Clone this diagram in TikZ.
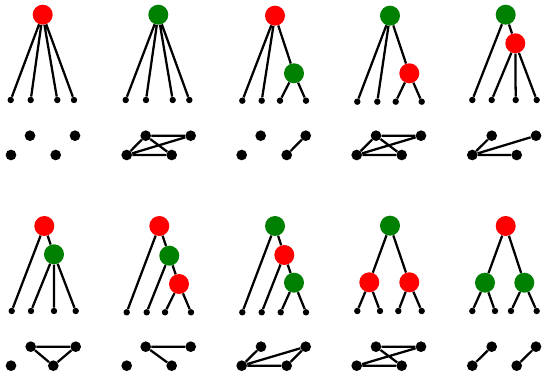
\documentclass[tikz,border=0pt]{standalone}
\usepackage{xcolor}
\definecolor{tgreen}{RGB}{0,128,0}
\definecolor{tred}{RGB}{255,0,0}
\begin{document}
\begin{tikzpicture}[x=0.75pt,y=-0.75pt,
  rn/.style={circle,fill=tred,inner sep=0pt,minimum size=15pt},
  gn/.style={circle,fill=tgreen,inner sep=0pt,minimum size=15pt},
  lf/.style={circle,fill=black,inner sep=0pt,minimum size=4.8pt},
  gd/.style={circle,fill=black,inner sep=0pt,minimum size=8pt},
  ed/.style={line width=1.7pt}]
\useasboundingbox (0,0) rectangle (542,373);
% ---------- Panel 1
\node[rn] (a0) at (42.7,14.7) {};
\node[lf] (a1) at (10.7,100) {};
\node[lf] (a2) at (30.7,100) {};
\node[lf] (a3) at (57.3,100) {};
\node[lf] (a4) at (74,100) {};
\draw[ed] (a0)--(a1) (a0)--(a2) (a0)--(a3) (a0)--(a4);
\node[gd] (aTL) at (30,135.7) {};
\node[gd] (aTR) at (75,135.7) {};
\node[gd] (aBL) at (11,155) {};
\node[gd] (aBR) at (55.7,155) {};
% ---------- Panel 2
\node[gn] (b0) at (158.3,14.7) {};
\node[lf] (b1) at (125.7,100) {};
\node[lf] (b2) at (146,100) {};
\node[lf] (b3) at (172.7,100) {};
\node[lf] (b4) at (189.3,100) {};
\draw[ed] (b0)--(b1) (b0)--(b2) (b0)--(b3) (b0)--(b4);
\node[gd] (bTL) at (145.7,135.7) {};
\node[gd] (bTR) at (190.7,135.7) {};
\node[gd] (bBL) at (126.7,155) {};
\node[gd] (bBR) at (171.7,155) {};
\draw[ed] (bTL)--(bTR) (bTL)--(bBL) (bTL)--(bBR) (bBL)--(bBR) (bBL)--(bTR);
% ---------- Panel 3
\node[rn] (c0) at (275,15.7) {};
\node[gn] (c5) at (294,73.3) {};
\node[lf] (c1) at (242.3,100.7) {};
\node[lf] (c2) at (261.7,100.7) {};
\node[lf] (c3) at (280,100.7) {};
\node[lf] (c4) at (306,100.7) {};
\draw[ed] (c0)--(c1) (c0)--(c2) (c0)--(c5) (c5)--(c3) (c5)--(c4);
\node[gd] (cTL) at (260.7,135.7) {};
\node[gd] (cTR) at (305.7,135.7) {};
\node[gd] (cBL) at (241.7,155) {};
\node[gd] (cBR) at (286.7,155) {};
\draw[ed] (cBR)--(cTR);
% ---------- Panel 4
\node[gn] (d0) at (390,15.7) {};
\node[rn] (d5) at (409.3,73.3) {};
\node[lf] (d1) at (357.3,101.7) {};
\node[lf] (d2) at (377.3,101.7) {};
\node[lf] (d3) at (395.7,101.7) {};
\node[lf] (d4) at (421.7,101.7) {};
\draw[ed] (d0)--(d1) (d0)--(d2) (d0)--(d5) (d5)--(d3) (d5)--(d4);
\node[gd] (dTL) at (376,135.7) {};
\node[gd] (dTR) at (421,135.7) {};
\node[gd] (dBL) at (356.7,155) {};
\node[gd] (dBR) at (401.7,155) {};
\draw[ed] (dTL)--(dTR) (dTL)--(dBL) (dTL)--(dBR) (dBL)--(dBR) (dBL)--(dTR);
% ---------- Panel 5
\node[gn] (e0) at (505.7,14.7) {};
\node[rn] (e5) at (515.3,43.3) {};
\node[lf] (e1) at (472.3,100) {};
\node[lf] (e2) at (491.7,100) {};
\node[lf] (e3) at (515.7,100) {};
\node[lf] (e4) at (536.7,100) {};
\draw[ed] (e0)--(e1) (e0)--(e5) (e5)--(e2) (e5)--(e3) (e5)--(e4);
\node[gd] (eTL) at (491.7,135.7) {};
\node[gd] (eTR) at (536,135.7) {};
\node[gd] (eBL) at (472.3,155) {};
\node[gd] (eBR) at (516.7,155) {};
\draw[ed] (eBL)--(eTL) (eBL)--(eTR) (eBL)--(eBR);
% ---------- Panel 6
\node[rn] (f0) at (44.3,226) {};
\node[gn] (f5) at (54,254.3) {};
\node[lf] (f1) at (11.7,311) {};
\node[lf] (f2) at (31,311) {};
\node[lf] (f3) at (54,311) {};
\node[lf] (f4) at (75.7,311) {};
\draw[ed] (f0)--(f1) (f0)--(f5) (f5)--(f2) (f5)--(f3) (f5)--(f4);
\node[gd] (fTL) at (30.7,346.7) {};
\node[gd] (fTR) at (75.7,346.7) {};
\node[gd] (fBL) at (11,365.7) {};
\node[gd] (fBR) at (53.3,365.7) {};
\draw[ed] (fTL)--(fTR) (fTL)--(fBR) (fBR)--(fTR);
% ---------- Panel 7
\node[rn] (g0) at (159.3,226) {};
\node[gn] (g5) at (169.3,255.7) {};
\node[rn] (g6) at (179,284) {};
\node[lf] (g1) at (126.7,312.3) {};
\node[lf] (g2) at (146.7,312.3) {};
\node[lf] (g3) at (165,312.3) {};
\node[lf] (g4) at (191,312.3) {};
\draw[ed] (g0)--(g1) (g0)--(g5) (g5)--(g2) (g5)--(g6) (g6)--(g3) (g6)--(g4);
\node[gd] (gTL) at (145.7,346.7) {};
\node[gd] (gTR) at (190.7,346.7) {};
\node[gd] (gBL) at (126.7,365.7) {};
\node[gd] (gBR) at (171.7,365.7) {};
\draw[ed] (gTL)--(gTR) (gTL)--(gBR);
% ---------- Panel 8
\node[gn] (h0) at (275,226) {};
\node[rn] (h5) at (284.3,255) {};
\node[gn] (h6) at (294,282.7) {};
\node[lf] (h1) at (242.3,312.3) {};
\node[lf] (h2) at (261.7,312.3) {};
\node[lf] (h3) at (280.7,312.3) {};
\node[lf] (h4) at (306,312.3) {};
\draw[ed] (h0)--(h1) (h0)--(h5) (h5)--(h2) (h5)--(h6) (h6)--(h3) (h6)--(h4);
\node[gd] (hTL) at (261,346.7) {};
\node[gd] (hTR) at (305.7,346.7) {};
\node[gd] (hBL) at (241.7,365.7) {};
\node[gd] (hBR) at (286.7,365.7) {};
\draw[ed] (hBL)--(hTL) (hBL)--(hTR) (hBL)--(hBR) (hBR)--(hTR);
% ---------- Panel 9
\node[gn] (i0) at (390,225.7) {};
\node[rn] (i5) at (369.3,282.3) {};
\node[rn] (i6) at (409.3,282.3) {};
\node[lf] (i1) at (357.3,311) {};
\node[lf] (i2) at (380,311) {};
\node[lf] (i3) at (398.3,311) {};
\node[lf] (i4) at (421.7,311) {};
\draw[ed] (i0)--(i5) (i0)--(i6) (i5)--(i1) (i5)--(i2) (i6)--(i3) (i6)--(i4);
\node[gd] (iTL) at (376,346.7) {};
\node[gd] (iTR) at (421,346.7) {};
\node[gd] (iBL) at (356.7,365.7) {};
\node[gd] (iBR) at (401.7,365.7) {};
\draw[ed] (iTL)--(iTR) (iTL)--(iBR) (iBL)--(iBR) (iBL)--(iTR);
% ---------- Panel 10
\node[rn] (j0) at (505.7,226) {};
\node[gn] (j5) at (485,282.7) {};
\node[gn] (j6) at (524.3,282.7) {};
\node[lf] (j1) at (472.3,311) {};
\node[lf] (j2) at (495,311) {};
\node[lf] (j3) at (511,311) {};
\node[lf] (j4) at (536.7,311) {};
\draw[ed] (j0)--(j5) (j0)--(j6) (j5)--(j1) (j5)--(j2) (j6)--(j3) (j6)--(j4);
\node[gd] (jTL) at (491.7,346.7) {};
\node[gd] (jTR) at (536,346.7) {};
\node[gd] (jBL) at (472.3,365.7) {};
\node[gd] (jBR) at (516.7,365.7) {};
\draw[ed] (jBL)--(jTL) (jBR)--(jTR);
\end{tikzpicture}
\end{document}
